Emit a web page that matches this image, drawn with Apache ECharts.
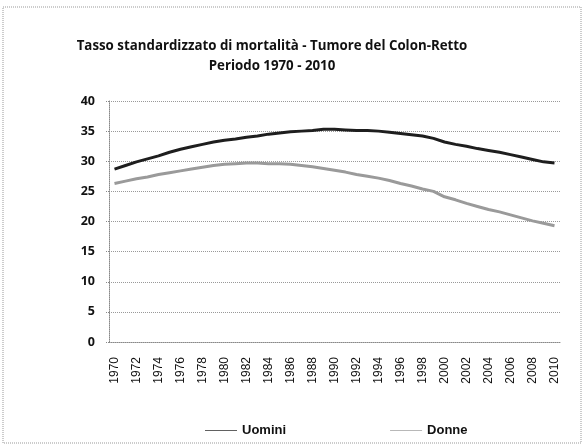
<!DOCTYPE html>
<html>
<head>
<meta charset="utf-8">
<script src="https://cdn.jsdelivr.net/npm/echarts@6/dist/echarts.min.js"></script>
<style>
html,body{margin:0;padding:0;background:#fff;}
#chart{width:585px;height:445px;}
</style>
</head>
<body>
<div id="chart"></div>
<script>
var anni=[];
for(var a=1970;a<=2010;a++){anni.push(String(a));}
var uomini=[28.7,29.3,29.9,30.4,30.9,31.5,32.0,32.4,32.8,33.2,
    33.5,33.7,34.0,34.2,34.5,34.7,34.9,35.0,35.1,35.3,
    35.3,35.2,35.1,35.1,35.0,34.8,34.6,34.4,34.2,33.8,
    33.2,32.8,32.5,32.1,31.8,31.5,31.1,30.7,30.3,29.9,29.7];
var donne=[26.3,26.7,27.1,27.4,27.8,28.1,28.4,28.7,29.0,29.3,
    29.5,29.6,29.7,29.7,29.6,29.6,29.5,29.3,29.1,28.8,
    28.5,28.2,27.8,27.5,27.2,26.8,26.3,25.9,25.4,25.0,
    24.1,23.6,23.0,22.5,22.0,21.6,21.1,20.6,20.1,19.7,19.3];

var chart=echarts.init(document.getElementById('chart'));
var option={
    animation:false,
    graphic:[{
        type:'rect',
        shape:{x:3,y:7,width:578,height:436},
        style:{fill:'none',stroke:'#999',lineWidth:1,lineDash:[1,1]}
    }],
    title:{
        text:'Tasso standardizzato di mortalità - Tumore del Colon-Retto\nPeriodo 1970 - 2010',
        left:267,
        top:31,
        textAlign:'center',
        textStyle:{fontFamily:'Open Sans',fontWeight:'bold',fontSize:13.3,color:'#111',lineHeight:20}
    },
    legend:{
        data:['Uomini','Donne'],
        left:200,
        top:419,
        icon:'rect',
        itemWidth:32,
        itemHeight:1,
        itemGap:104,
        itemStyle:{opacity:0.7},
        textStyle:{fontFamily:'Liberation Sans',fontWeight:'bold',fontSize:13,color:'#111'}
    },
    grid:{left:109,right:25,top:101,bottom:103},
    xAxis:{
        type:'category',
        boundaryGap:true,
        data:anni,
        axisLine:{lineStyle:{color:'#888',type:'dotted'}},
        axisTick:{interval:0,length:4,lineStyle:{color:'#888',type:'dotted'}},
        axisLabel:{interval:1,rotate:90,margin:15,fontFamily:'Liberation Sans',fontSize:12,color:'#111'}
    },
    yAxis:{
        type:'value',
        min:0,max:40,interval:5,
        axisLine:{show:true,lineStyle:{color:'#888',type:'dotted'}},
        axisTick:{show:true,length:4,lineStyle:{color:'#888',type:'dotted'}},
        splitLine:{lineStyle:{color:'#999',type:'dotted'}},
        axisLabel:{margin:14,fontFamily:'Open Sans',fontWeight:'bold',fontSize:12.5,color:'#111'}
    },
    series:[
        {
            name:'Uomini',
            type:'line',
            data:uomini,
            showSymbol:false,
            itemStyle:{color:'#1e1e1e'},
            lineStyle:{width:3,color:'#1e1e1e'}
        },
        {
            name:'Donne',
            type:'line',
            data:donne,
            showSymbol:false,
            itemStyle:{color:'#9a9a9a'},
            lineStyle:{width:3,color:'#9a9a9a'}
        }
    ]
};
chart.setOption(option);
</script>
</body>
</html>
